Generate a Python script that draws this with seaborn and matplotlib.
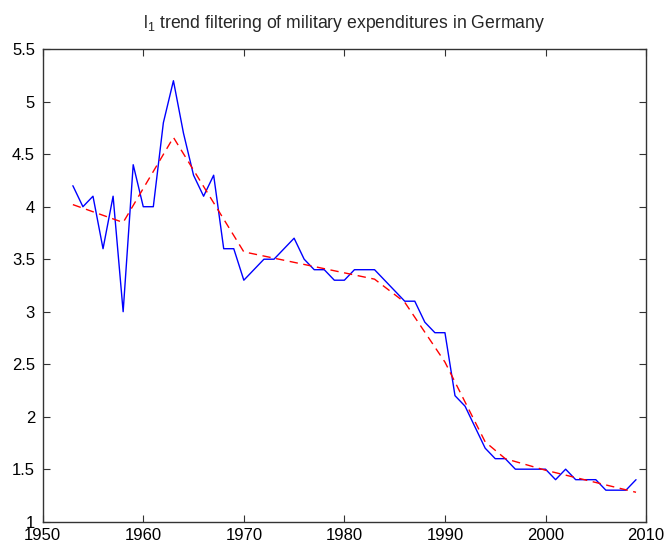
import numpy as np
import pandas as pd
import matplotlib
matplotlib.use("Agg")
import matplotlib.pyplot as plt
import seaborn as sns

years = list(range(1953, 2010))
expenditure = [4.2, 4.0, 4.1, 3.6, 4.1, 3.0, 4.4, 4.0, 4.0, 4.8,
               5.2, 4.7, 4.3, 4.1, 4.3, 3.6, 3.6, 3.3, 3.4, 3.5,
               3.5, 3.6, 3.7, 3.5, 3.4, 3.4, 3.3, 3.3, 3.4, 3.4,
               3.4, 3.3, 3.2, 3.1, 3.1, 2.9, 2.8, 2.8, 2.2, 2.1,
               1.9, 1.7, 1.6, 1.6, 1.5, 1.5, 1.5, 1.5, 1.4, 1.5,
               1.4, 1.4, 1.4, 1.3, 1.3, 1.3, 1.4]
trend_years = [1953, 1958, 1963, 1970, 1983, 1986, 1990, 1994, 1996, 2000, 2009]
trend_values = [4.02, 3.85, 4.66, 3.57, 3.31, 3.09, 2.52, 1.76, 1.60, 1.49, 1.28]
xticks = [1950, 1960, 1970, 1980, 1990, 2000, 2010]
yticks = [1, 1.5, 2, 2.5, 3, 3.5, 4, 4.5, 5, 5.5]
ytick_labels = ["1", "1.5", "2", "2.5", "3", "3.5", "4", "4.5", "5", "5.5"]
title = r"l$_1$ trend filtering of military expenditures in Germany"

sns.set_style("white")
plt.rcParams["font.family"] = ["Liberation Sans", "DejaVu Sans"]
plt.rcParams["mathtext.fontset"] = "custom"
plt.rcParams["mathtext.rm"] = "Liberation Sans"
plt.rcParams["mathtext.it"] = "Liberation Sans"

df = pd.DataFrame({"year": years, "value": expenditure})
tf = pd.DataFrame({"year": trend_years, "value": trend_values})

fig = plt.figure(figsize=(6.64, 5.47), dpi=100)
fig.patch.set_facecolor("white")
ax = fig.add_axes([0.0643, 0.0463, 0.9087, 0.8637])

sns.lineplot(data=df, x="year", y="value", ax=ax, color=(0, 0, 1), lw=1.0)
sns.lineplot(data=tf, x="year", y="value", ax=ax, color=(1, 0, 0), lw=1.0,
             linestyle=(0, (6, 4)))

ax.set_xlim(1950, 2010)
ax.set_ylim(1, 5.5)
ax.set_xticks(xticks)
ax.set_xticklabels([str(t) for t in xticks])
ax.set_yticks(yticks)
ax.set_yticklabels(ytick_labels)
ax.set_xlabel("")
ax.set_ylabel("")
ax.tick_params(direction="in", length=5, width=0.8, colors="#333333",
               labelcolor="black", labelsize=12, top=True, right=True,
               bottom=True, left=True)
ax.tick_params(axis="x", pad=4.5)
ax.tick_params(axis="y", pad=5.5)
for s in ax.spines.values():
    s.set_visible(True)
    s.set_color("#333333")
    s.set_linewidth(1.0)
ax.set_title(title, fontsize=12.7, pad=15)

fig.savefig("out.png", dpi=100, facecolor="white")
